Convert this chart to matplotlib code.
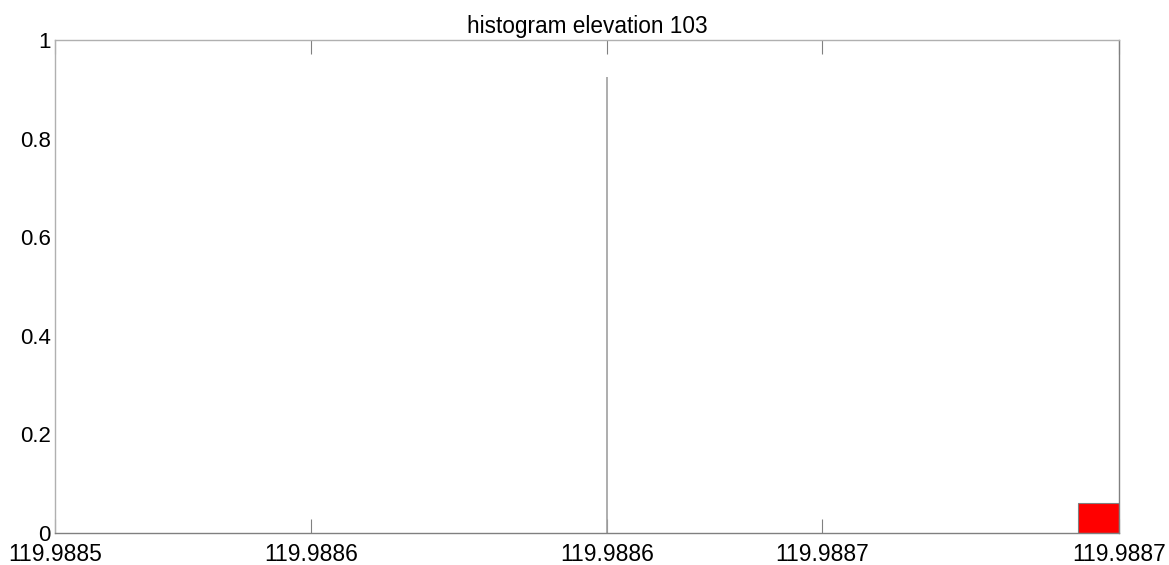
import matplotlib
matplotlib.use("Agg")
import matplotlib.pyplot as plt

plt.rcParams["font.family"] = ["Liberation Sans", "DejaVu Sans"]

# bin edges / counts of the elevation histogram
x_min = 119.988546
x_max = 119.988704
tick_values = [119.988546, 119.988584, 119.988628, 119.988660, 119.988704]
tick_labels = ["119.9885", "119.9886", "119.9886", "119.9887", "119.9887"]
y_ticks = [0, 0.2, 0.4, 0.6, 0.8, 1.0]
y_labels = ["0", "0.2", "0.4", "0.6", "0.8", "1"]

spike_x = 119.988628
spike_height = 0.925
bar_left = 119.988698
bar_right = 119.988704
bar_height = 0.06

fig = plt.figure(figsize=(11.69, 5.65), dpi=100)
ax = fig.add_axes([0.047, 0.0566, 0.910, 0.8726])

ax.vlines(spike_x, 0, spike_height, color="#a0a0a0", linewidth=1.2)
ax.bar(bar_left, bar_height, width=bar_right - bar_left, align="edge",
       color="#ff0000", edgecolor="#808080", linewidth=0.8)

ax.set_xlim(x_min, x_max)
ax.set_ylim(0, 1)
ax.set_xticks(tick_values)
ax.set_xticklabels(tick_labels)
ax.set_yticks(y_ticks)
ax.set_yticklabels(y_labels)
ax.tick_params(axis="x", direction="in", length=10, width=0.8, color="#808080",
               labelsize=16.5, top=True, pad=7)
ax.tick_params(axis="y", direction="in", length=0, labelsize=16, pad=3)
for side in ["left", "top"]:
    ax.spines[side].set_color("#b0b0b0")
for side in ["right", "bottom"]:
    ax.spines[side].set_color("#808080")
for s in ax.spines.values():
    s.set_linewidth(1.0)

ax.set_title("histogram elevation 103", fontsize=16.3, pad=5)

fig.savefig("out.png", dpi=100, facecolor="white")
